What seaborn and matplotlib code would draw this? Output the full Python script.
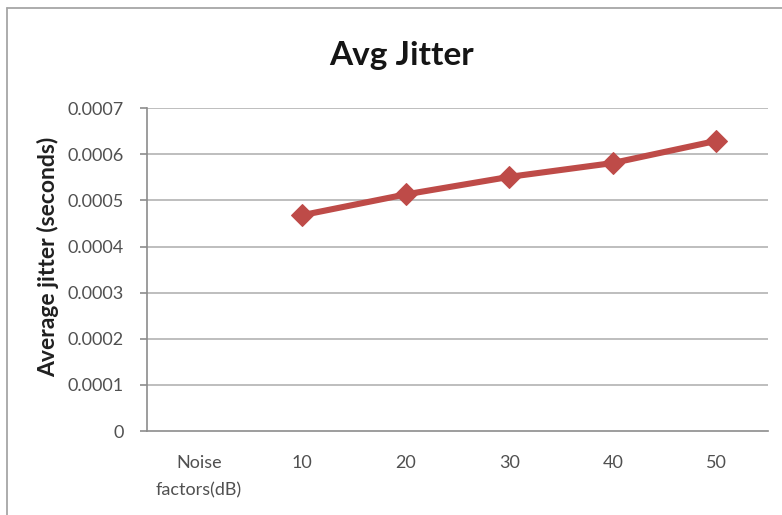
import numpy as np
import pandas as pd
import matplotlib
matplotlib.use("Agg")
import matplotlib.pyplot as plt
import seaborn as sns

# Average jitter per noise factor (first category is the axis caption, no value)
categories = ["Noise\nfactors(dB)", "10", "20", "30", "40", "50"]
jitter = [np.nan, 0.000468, 0.000513, 0.000551, 0.000581, 0.000629]
y_ticks = [0, 0.0001, 0.0002, 0.0003, 0.0004, 0.0005, 0.0006, 0.0007]
y_tick_labels = ["0", "0.0001", "0.0002", "0.0003", "0.0004", "0.0005", "0.0006", "0.0007"]

df = pd.DataFrame({"pos": np.arange(len(categories)), "jitter": jitter})

sns.set_theme(style="white")
plt.rcParams["font.family"] = ["Lato", "DejaVu Sans"]

fig = plt.figure(figsize=(7.82, 5.15), dpi=100)
ax = fig.add_axes([0.188, 0.163, 0.794, 0.627])

line_color = "#BE4B48"
sns.lineplot(data=df, x="pos", y="jitter", ax=ax, color=line_color,
             linewidth=4.4, marker="D", markersize=11,
             markeredgecolor=line_color, markerfacecolor=line_color)

ax.set_xlim(-0.5, len(categories) - 0.5)
ax.set_ylim(0, 0.0007)
ax.set_yticks(y_ticks)
ax.set_yticklabels(y_tick_labels)
ax.set_xticks(np.arange(len(categories)))
ax.set_xticklabels(categories, va="top", linespacing=1.85)

for y in y_ticks[1:]:
    ax.axhline(y, color="#BEBEBE", linewidth=1.4, zorder=0)

for side in ["top", "right"]:
    ax.spines[side].set_visible(False)
for side in ["left", "bottom"]:
    ax.spines[side].set_color("#8C8C8C")
    ax.spines[side].set_linewidth(1.2)

ax.tick_params(axis="y", which="major", left=True, length=5, width=1.2,
               color="#8C8C8C", pad=12, labelsize=13, labelcolor="#505050")
ax.tick_params(axis="x", which="major", bottom=False, length=0, pad=17,
               labelsize=13, labelcolor="#505050")

ax.set_xlabel("")
ax.set_ylabel("Average jitter (seconds)", fontsize=16.5, fontweight="bold",
              color="#202020")
ax.yaxis.set_label_coords(-0.142, 0.54)

fig.text(0.513, 0.893, "Avg Jitter", ha="center", va="center",
         fontsize=24, fontweight="bold", color="#151515")

# chart-area border
fig.add_artist(plt.Line2D([7 / 782, 7 / 782], [0, 1 - 8 / 515],
                          transform=fig.transFigure, color="#A6A6A6", linewidth=1.3))
fig.add_artist(plt.Line2D([7 / 782, 1], [1 - 8 / 515, 1 - 8 / 515],
                          transform=fig.transFigure, color="#A6A6A6", linewidth=1.3))

fig.savefig("out.png", dpi=100)
